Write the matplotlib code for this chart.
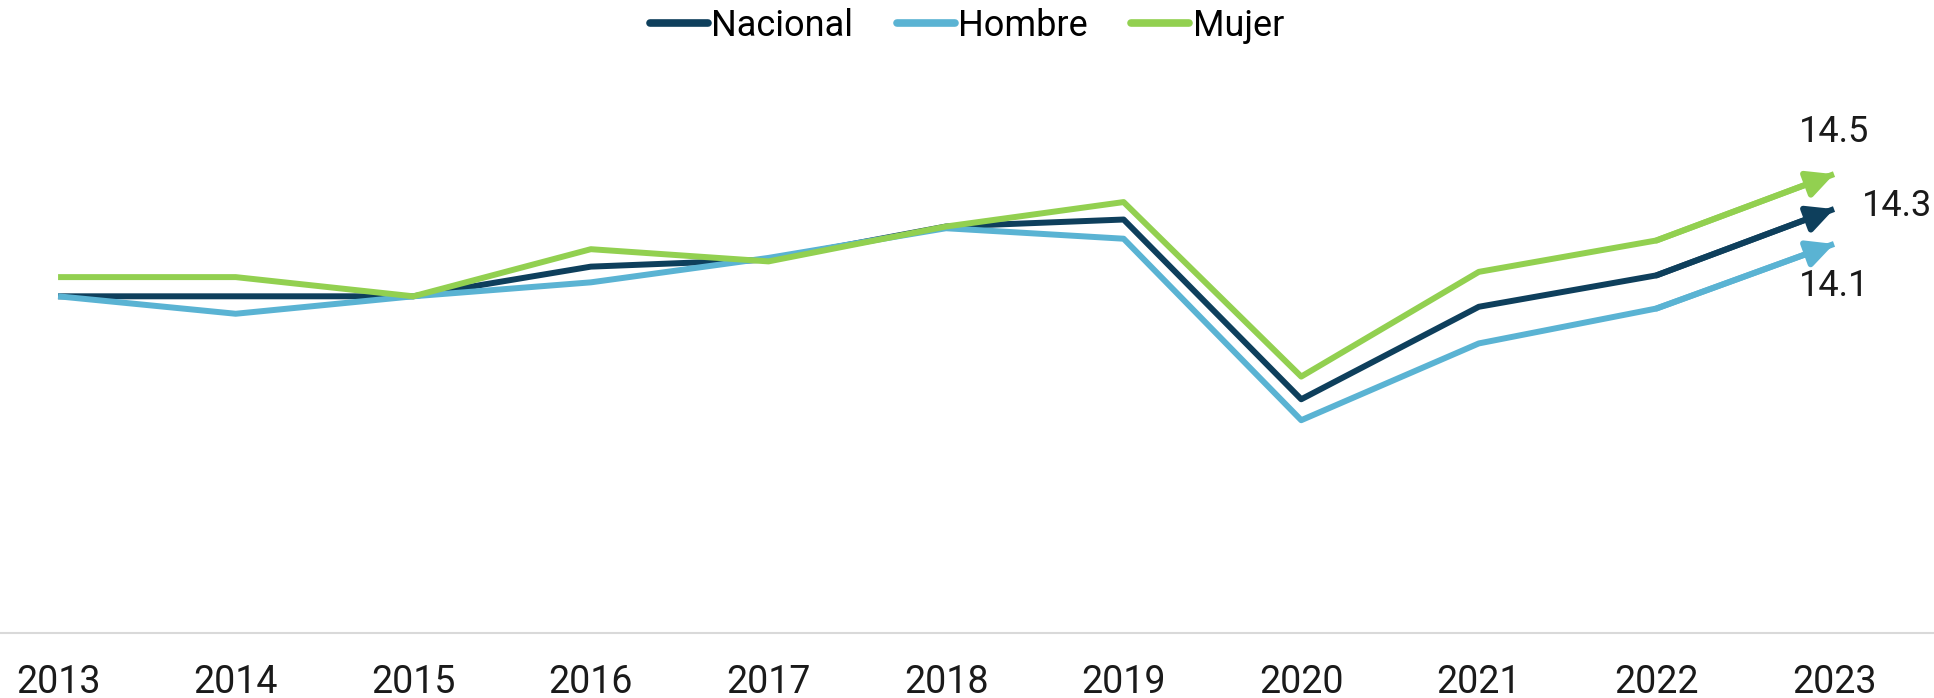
import matplotlib.pyplot as plt

plt.rcParams['font.family'] = ['Roboto', 'DejaVu Sans']

years = [2013, 2014, 2015, 2016, 2017, 2018, 2019, 2020, 2021, 2022, 2023]
nacional = [13.80, 13.80, 13.80, 13.97, 14.01, 14.20, 14.24, 13.21, 13.74, 13.92, 14.3]
hombre = [13.80, 13.70, 13.80, 13.88, 14.02, 14.19, 14.13, 13.09, 13.53, 13.73, 14.1]
mujer = [13.91, 13.91, 13.80, 14.07, 14.00, 14.20, 14.34, 13.34, 13.94, 14.12, 14.5]

series = [('Nacional', nacional, '#0e3f5c'),
          ('Hombre', hombre, '#5ab3d3'),
          ('Mujer', mujer, '#92d050')]

fig = plt.figure(figsize=(19.34, 6.98), dpi=100)
ax = fig.add_axes([0, 0.093, 1, 0.82])

for name, vals, col in series:
    ax.plot(years, vals, color=col, lw=4.3, label=name, solid_capstyle='butt')
    ax.annotate('', xy=(years[-1], vals[-1]), xytext=(years[-2], vals[-2]),
                arrowprops=dict(arrowstyle='-|>', color=col, lw=4.3,
                                mutation_scale=40, shrinkA=0, shrinkB=0))

# end labels
ax.annotate('14.5', xy=(years[-1], mujer[-1]), xytext=(0, 30), textcoords='offset points',
            ha='center', va='center', fontsize=26, color='#1a1a1a')
ax.annotate('14.3', xy=(years[-1], nacional[-1]), xytext=(20, 2), textcoords='offset points',
            ha='left', va='center', fontsize=26, color='#1a1a1a')
ax.annotate('14.1', xy=(years[-1], hombre[-1]), xytext=(0, -30), textcoords='offset points',
            ha='center', va='center', fontsize=26, color='#1a1a1a')

ax.set_xlim(2012.673, 2023.563)
ax.set_ylim(11.87, 15.15)
ax.set_xticks(years)
ax.set_xticklabels([str(y) for y in years])
ax.set_yticks([])
ax.tick_params(axis='x', length=0, pad=22, labelsize=27, labelcolor='#1a1a1a')
for s in ['top', 'right', 'left']:
    ax.spines[s].set_visible(False)
ax.spines['bottom'].set_color('#d9d9d9')
ax.spines['bottom'].set_linewidth(1.5)

leg = fig.legend(loc='upper center', bbox_to_anchor=(0.5, 1.035), ncol=3, frameon=False,
                 fontsize=26, handlelength=1.6, handletextpad=0.1, columnspacing=1.2)
for line in leg.get_lines():
    line.set_linewidth(5.5)
    line.set_solid_capstyle('round')

fig.savefig('out.png', dpi=100)
